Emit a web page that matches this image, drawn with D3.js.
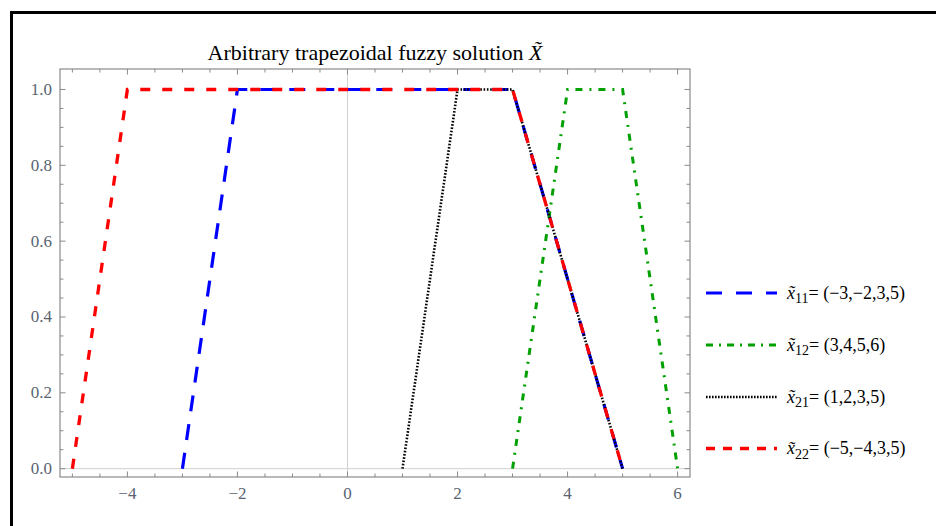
<!DOCTYPE html>
<html>
<head>
<meta charset="utf-8">
<script src="https://cdn.jsdelivr.net/npm/d3@7"></script>
<style>
  body { margin: 0; background: #fff; }
  svg { display: block; }
</style>
</head>
<body>
<div id="chart"></div>
<script>
// trapezoid corners for each fuzzy solution
const x11 = [-3, -2, 3, 5];
const x12 = [3, 4, 5, 6];
const x21 = [1, 2, 3, 5];
const x22 = [-5, -4, 3, 5];
const membership = [0, 1, 1, 0];

const subscripts = ["11", "12", "21", "22"];
const labels = ["= (\u22123,\u22122,3,5)", "= (3,4,5,6)", "= (1,2,3,5)", "= (\u22125,\u22124,3,5)"];

const xTicks = [-4, -2, 0, 2, 4, 6];
const yTicks = [0, 0.2, 0.4, 0.6, 0.8, 1.0];

const title = "Arbitrary trapezoidal fuzzy solution ";

// drawing styles
const styles = [
  { color: "#0000ff", dash: "16,13", width: 3.2 },
  { color: "#00a000", dash: "7,7,2,7", width: 3 },
  { color: "#000000", dash: "1.6,1.7", width: 2.6 },
  { color: "#ff0000", dash: "10,12", width: 3.3 }
];
const legendDash = ["16,14", "7,6,2,6", "1.6,1.4", "9,8"];

const width = 936;
const height = 526;
const margin = { top: 69, right: 246, bottom: 49, left: 60 };
const chartWidth = width - margin.left - margin.right;
const chartHeight = height - margin.top - margin.bottom;

const svg = d3.select("#chart").append("svg")
  .attr("width", width)
  .attr("height", height);

// outer black frame (open on right and bottom)
svg.append("path")
  .attr("d", "M11.5,530 L11.5,12.5 L940,12.5")
  .attr("fill", "none")
  .attr("stroke", "#000")
  .attr("stroke-width", 3);

const xScale = d3.scaleLinear().domain([-5.225, 6.225]).range([0, chartWidth]);
const yScale = d3.scaleLinear().domain([-0.022, 1.054]).range([chartHeight, 0]);

const g = svg.append("g").attr("transform", `translate(${margin.left},${margin.top})`);

// light axes at x=0 and y=0
g.append("line")
  .attr("x1", xScale(0)).attr("x2", xScale(0))
  .attr("y1", 0).attr("y2", chartHeight)
  .attr("stroke", "#d0d0d0").attr("stroke-width", 1);
g.append("line")
  .attr("x1", 0).attr("x2", chartWidth)
  .attr("y1", yScale(0)).attr("y2", yScale(0))
  .attr("stroke", "#d0d0d0").attr("stroke-width", 1);

// series
const allSeries = [x11, x12, x21, x22];
const line = d3.line().x((d) => xScale(d[0])).y((d) => yScale(d[1]));

g.selectAll("path.series")
  .data(allSeries)
  .enter()
  .append("path")
  .attr("class", "series")
  .attr("d", (s) => line(s.map((v, i) => [v, membership[i]])))
  .attr("fill", "none")
  .attr("stroke", (d, i) => styles[i].color)
  .attr("stroke-width", (d, i) => styles[i].width)
  .attr("stroke-dasharray", (d, i) => styles[i].dash)
  .attr("stroke-linejoin", "miter");

// frame
const frameColor = "#8a8a8a";
g.append("rect")
  .attr("x", 0).attr("y", 0)
  .attr("width", chartWidth).attr("height", chartHeight)
  .attr("fill", "none")
  .attr("stroke", frameColor)
  .attr("stroke-width", 1.2);

const xMinor = d3.range(-5, 6.01, 0.5);
const yMinor = d3.range(0, 1.001, 0.05);

const tickG = g.append("g").attr("stroke", frameColor).attr("stroke-width", 1);
xMinor.forEach((v) => {
  const major = xTicks.some((t) => Math.abs(t - v) < 1e-9);
  const len = major ? 5.5 : 3.5;
  const px = xScale(v);
  tickG.append("line").attr("x1", px).attr("x2", px).attr("y1", chartHeight).attr("y2", chartHeight - len);
  tickG.append("line").attr("x1", px).attr("x2", px).attr("y1", 0).attr("y2", len);
});
yMinor.forEach((v) => {
  const major = yTicks.some((t) => Math.abs(t - v) < 1e-9);
  const len = major ? 5.5 : 3.5;
  const py = yScale(v);
  tickG.append("line").attr("x1", 0).attr("x2", len).attr("y1", py).attr("y2", py);
  tickG.append("line").attr("x1", chartWidth).attr("x2", chartWidth - len).attr("y1", py).attr("y2", py);
});

const labelColor = "#5a6470";
const fontFamily = "'Liberation Serif', 'DejaVu Serif', serif";

g.selectAll("text.xtick")
  .data(xTicks)
  .enter()
  .append("text")
  .attr("class", "xtick")
  .attr("x", (d) => xScale(d))
  .attr("y", chartHeight + 22)
  .attr("text-anchor", "middle")
  .style("font-family", fontFamily)
  .style("font-size", "17px")
  .style("fill", labelColor)
  .text((d) => (d < 0 ? "\u2212" + Math.abs(d) : d));

g.selectAll("text.ytick")
  .data(yTicks)
  .enter()
  .append("text")
  .attr("class", "ytick")
  .attr("x", -8)
  .attr("y", (d) => yScale(d) + 5.5)
  .attr("text-anchor", "end")
  .style("font-family", fontFamily)
  .style("font-size", "17px")
  .style("fill", labelColor)
  .text((d) => d.toFixed(1));

// title
const titleText = svg.append("text")
  .attr("x", margin.left + chartWidth / 2)
  .attr("y", 60)
  .attr("text-anchor", "middle")
  .style("font-family", fontFamily)
  .style("font-size", "22px")
  .style("fill", "#000")
  .text(title);
titleText.append("tspan").style("font-style", "italic").text("X\u0303");

// legend
const legend = svg.append("g");
const rowY = [293, 345, 397, 448.5];
subscripts.forEach((sub, i) => {
  legend.append("line")
    .attr("x1", 706).attr("x2", 777)
    .attr("y1", rowY[i]).attr("y2", rowY[i])
    .attr("stroke", styles[i].color)
    .attr("stroke-width", styles[i].width)
    .attr("stroke-dasharray", legendDash[i]);
  const t = legend.append("text")
    .attr("x", 787)
    .attr("y", rowY[i] + 5.5)
    .style("font-family", fontFamily)
    .style("font-size", "18px")
    .style("fill", "#000");
  t.append("tspan").style("font-style", "italic").text("x\u0303");
  t.append("tspan").attr("dy", 4.5).style("font-size", "14px").text(sub);
  t.append("tspan").attr("dy", -4.5).text(labels[i]);
});
</script>
</body>
</html>
